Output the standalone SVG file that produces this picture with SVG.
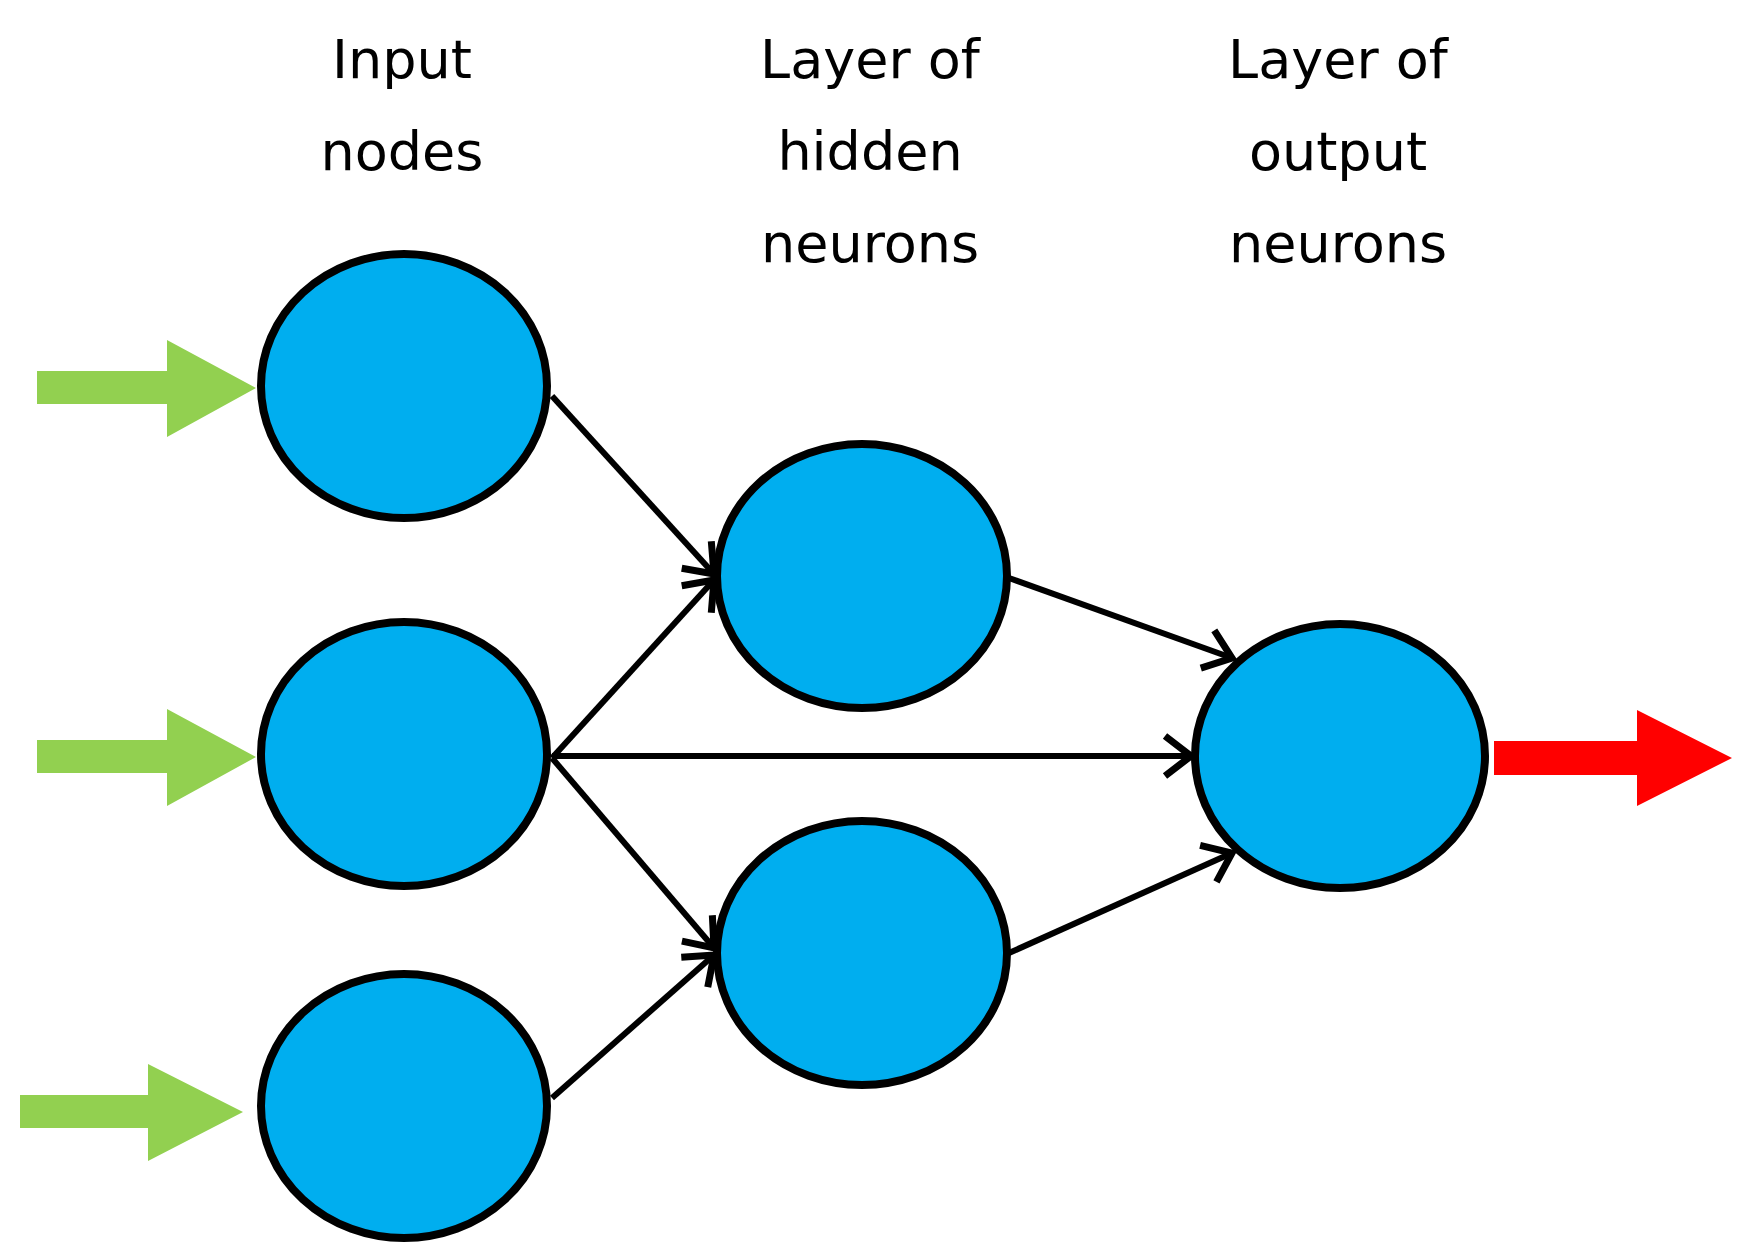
<svg xmlns="http://www.w3.org/2000/svg" width="1740" height="1258" viewBox="0 0 1740 1258">
<style>
.n{fill:#00aeef;stroke:#000;stroke-width:8}
.t{font-family:"DejaVu Sans",sans-serif;font-size:54px;fill:#000;text-anchor:middle}
.c{stroke:#000;stroke-width:6;fill:none;marker-end:url(#a)}
</style>
<defs>
<marker id="a" markerUnits="userSpaceOnUse" markerWidth="60" markerHeight="60" refX="40" refY="30" orient="auto" viewBox="0 0 60 60">
<polyline points="14,10 40,30 14,50" fill="none" stroke="#000" stroke-width="7"/>
</marker>
</defs>
<rect width="1740" height="1258" fill="#fff"/>
<g id="labels">
<text class="t" x="402" y="78">Input</text><text class="t" x="402" y="170">nodes</text>
<text class="t" x="870" y="78">Layer of</text><text class="t" x="870" y="170">hidden</text><text class="t" x="870" y="262">neurons</text>
<text class="t" x="1338" y="78">Layer of</text><text class="t" x="1338" y="170">output</text><text class="t" x="1338" y="262">neurons</text>
</g>
<g id="connectors">
<line class="c" x1="552" y1="396" x2="714" y2="574"/>
<line class="c" x1="552" y1="758" x2="714" y2="580"/>
<line class="c" x1="552" y1="756" x2="1191" y2="756"/>
<line class="c" x1="552" y1="758" x2="714" y2="948"/>
<line class="c" x1="552" y1="1098" x2="714" y2="955"/>
<line class="c" x1="1009" y1="578" x2="1232" y2="658"/>
<line class="c" x1="1009" y1="953" x2="1232" y2="853"/>
<polygon fill="#92d050" points="37,371 167,371 167,340 256,388 167,437 167,404 37,404"/>
<polygon fill="#92d050" points="37,740 167,740 167,709 256,757 167,806 167,773 37,773"/>
<polygon fill="#92d050" points="20,1095 148,1095 148,1064 243,1112 148,1161 148,1128 20,1128"/>
<polygon fill="#ff0000" points="1494,741 1637,741 1637,710 1732,758 1637,806 1637,775 1494,775"/>
</g>
<g id="in1"><ellipse class="n" cx="404" cy="386" rx="143" ry="132"/></g>
<g id="in2"><ellipse class="n" cx="404" cy="754" rx="143" ry="132"/></g>
<g id="in3"><ellipse class="n" cx="404" cy="1106" rx="143" ry="132"/></g>
<g id="h1"><ellipse class="n" cx="862" cy="576" rx="145" ry="132"/></g>
<g id="h2"><ellipse class="n" cx="862" cy="953" rx="145" ry="132"/></g>
<g id="out"><ellipse class="n" cx="1340" cy="756" rx="145" ry="132"/></g>
</svg>
